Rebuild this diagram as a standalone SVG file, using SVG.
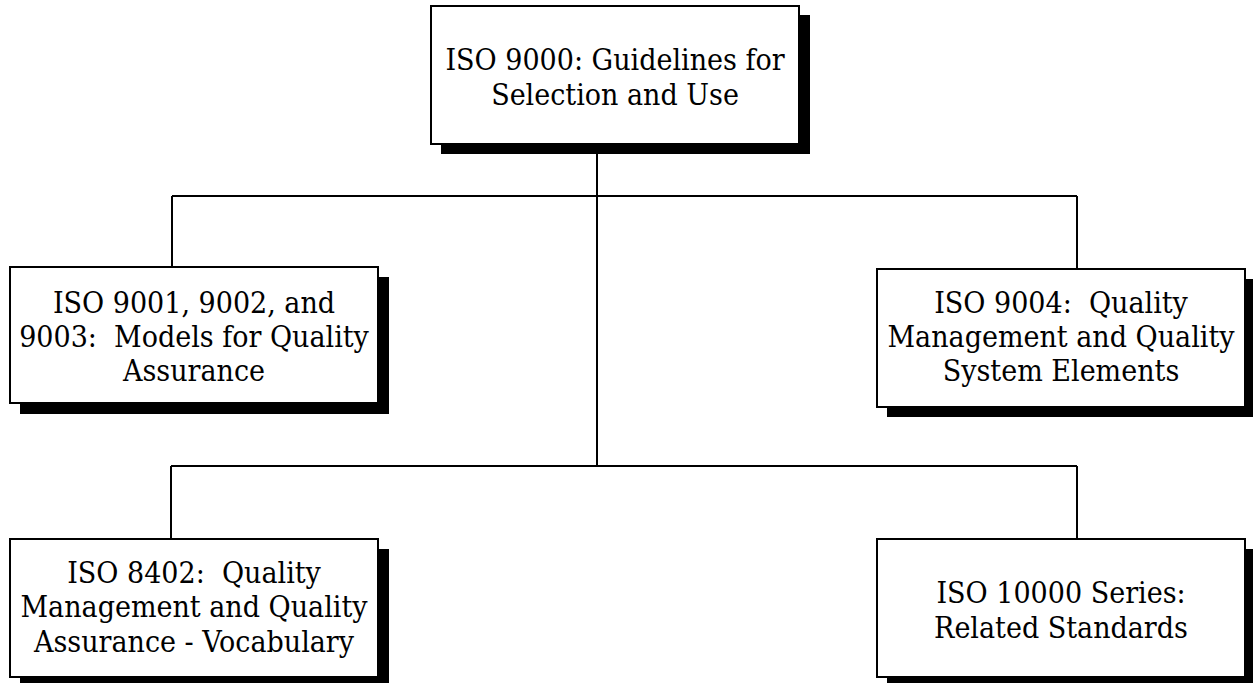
<svg xmlns="http://www.w3.org/2000/svg" width="1254" height="683" viewBox="0 0 1254 683">
<style>
.box{fill:#fff;stroke:#000;stroke-width:2}
.sh{fill:#000}
.ln{fill:none;stroke:#000;stroke-width:2}
text{font-family:"DejaVu Serif Condensed","DejaVu Serif","Liberation Serif",serif;font-stretch:condensed;font-size:30px;fill:#000;text-anchor:middle;white-space:pre}
</style>
<rect width="1254" height="683" fill="#fff"/>
<g id="connectors">
<path class="ln" d="M597 144V466"/>
<path class="ln" d="M172 196H1077M172 196V267M1077 196V269"/>
<path class="ln" d="M171 466H1077M171 466V539M1077 466V539"/>
</g>
<g id="n-top">
<rect class="sh" x="441" y="15" width="369" height="139"/>
<rect class="box" x="431" y="6" width="368" height="138"/>
<text x="615" y="70">ISO 9000: Guidelines for</text>
<text x="615" y="105">Selection and Use</text>
</g>
<g id="n-9001">
<rect class="sh" x="20" y="277" width="369" height="137"/>
<rect class="box" x="10" y="267" width="368" height="136"/>
<text x="194" y="313">ISO 9001, 9002, and</text>
<text x="194" y="347">9003:  Models for Quality</text>
<text x="194" y="381">Assurance</text>
</g>
<g id="n-9004">
<rect class="sh" x="887" y="279" width="366" height="138"/>
<rect class="box" x="877" y="269" width="368" height="138"/>
<text x="1061" y="313">ISO 9004:  Quality</text>
<text x="1061" y="347">Management and Quality</text>
<text x="1061" y="381">System Elements</text>
</g>
<g id="n-8402">
<rect class="sh" x="20" y="549" width="369" height="140"/>
<rect class="box" x="10" y="539" width="368" height="138"/>
<text x="194" y="583">ISO 8402:  Quality</text>
<text x="194" y="617">Management and Quality</text>
<text x="194" y="652">Assurance - Vocabulary</text>
</g>
<g id="n-10000">
<rect class="sh" x="887" y="549" width="366" height="140"/>
<rect class="box" x="877" y="539" width="368" height="138"/>
<text x="1061" y="603">ISO 10000 Series:</text>
<text x="1061" y="638">Related Standards</text>
</g>
</svg>
